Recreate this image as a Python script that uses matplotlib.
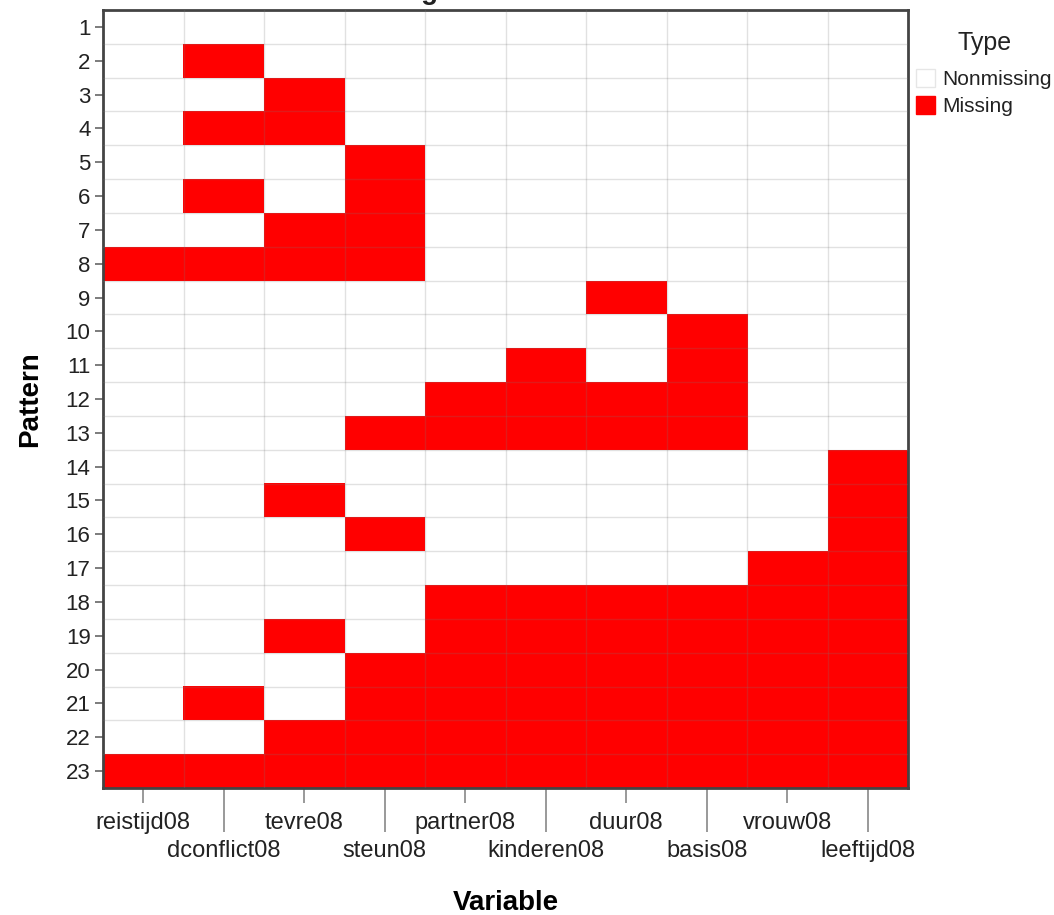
import matplotlib
matplotlib.use('Agg')
import matplotlib.pyplot as plt
from matplotlib.colors import ListedColormap
from matplotlib.patches import Patch
import numpy as np

plt.rcParams['font.family'] = ['Liberation Sans', 'DejaVu Sans']

variables = ['reistijd08', 'dconflict08', 'tevre08', 'steun08', 'partner08',
             'kinderen08', 'duur08', 'basis08', 'vrouw08', 'leeftijd08']
patterns = [str(i) for i in range(1, 24)]
# 1 = Missing, 0 = Nonmissing (one string per pattern, one char per variable)
pattern_rows = [
    '0000000000',
    '0100000000',
    '0010000000',
    '0110000000',
    '0001000000',
    '0101000000',
    '0011000000',
    '1111000000',
    '0000001000',
    '0000000100',
    '0000010100',
    '0000111100',
    '0001111100',
    '0000000001',
    '0010000001',
    '0001000001',
    '0000000011',
    '0000111111',
    '0010111111',
    '0001111111',
    '0101111111',
    '0011111111',
    '1111111111',
]
type_labels = ['Nonmissing', 'Missing']
type_colors = ['white', '#ff0000']

matrix = np.array([[int(c) for c in row] for row in pattern_rows])
n_pat, n_var = matrix.shape

fig = plt.figure(figsize=(10.54, 9.15), dpi=100)
ax = fig.add_axes([103/1054, 1 - 788/915, (908-103)/1054, (788-10)/915])

ax.imshow(matrix, cmap=ListedColormap(type_colors), vmin=0, vmax=1,
          aspect='auto', interpolation='nearest',
          extent=(-0.5, n_var - 0.5, n_pat - 0.5, -0.5))

for k in range(1, n_var):
    ax.axvline(k - 0.5, color='#777777', alpha=0.22, lw=1, zorder=3)
for k in range(1, n_pat):
    ax.axhline(k - 0.5, color='#777777', alpha=0.22, lw=1, zorder=3)

ax.set_xlim(-0.5, n_var - 0.5)
ax.set_ylim(n_pat - 0.5, -0.5)

ax.set_xticks(range(0, n_var, 2), labels=variables[0::2])
ax.set_xticks(range(1, n_var, 2), labels=variables[1::2], minor=True)
ax.tick_params(axis='x', which='major', length=11, width=1.2, color='#888888',
               pad=6, labelsize=17, labelcolor='#222222')
ax.tick_params(axis='x', which='minor', length=32, width=1.2, color='#888888',
               pad=5.5, labelsize=17, labelcolor='#222222')

ax.set_yticks(range(n_pat), labels=patterns)
ax.tick_params(axis='y', length=6, width=1.2, color='#666666', pad=3,
               labelsize=16, labelcolor='#222222')

for s in ax.spines.values():
    s.set_color('#444444')
    s.set_linewidth(2)

ax.set_xlabel('Variable', fontsize=20, fontweight='bold', labelpad=20)
ax.set_ylabel('Pattern', fontsize=20, fontweight='bold', labelpad=16)

fig.text(486/1054, 1 + 1/915, 'Missing Value Patterns', ha='center', va='baseline',
         fontsize=20, fontweight='bold', color='#222222')

handles = [Patch(facecolor=type_colors[0], edgecolor='#e6e6e6'),
           Patch(facecolor=type_colors[1], edgecolor=type_colors[1])]
leg = fig.legend(handles=handles, labels=type_labels, title='Type',
                 loc='upper left', bbox_to_anchor=(908/1054, 1 - 23/915),
                 frameon=False, handlelength=0.9, handleheight=0.95,
                 handletextpad=0.35, labelspacing=0.3, borderaxespad=0,
                 fontsize=15, title_fontsize=18)
for t in leg.get_texts():
    t.set_color('#222222')
leg.get_title().set_color('#222222')
leg._legend_box.sep = 10

fig.savefig('out.png', dpi=100)
